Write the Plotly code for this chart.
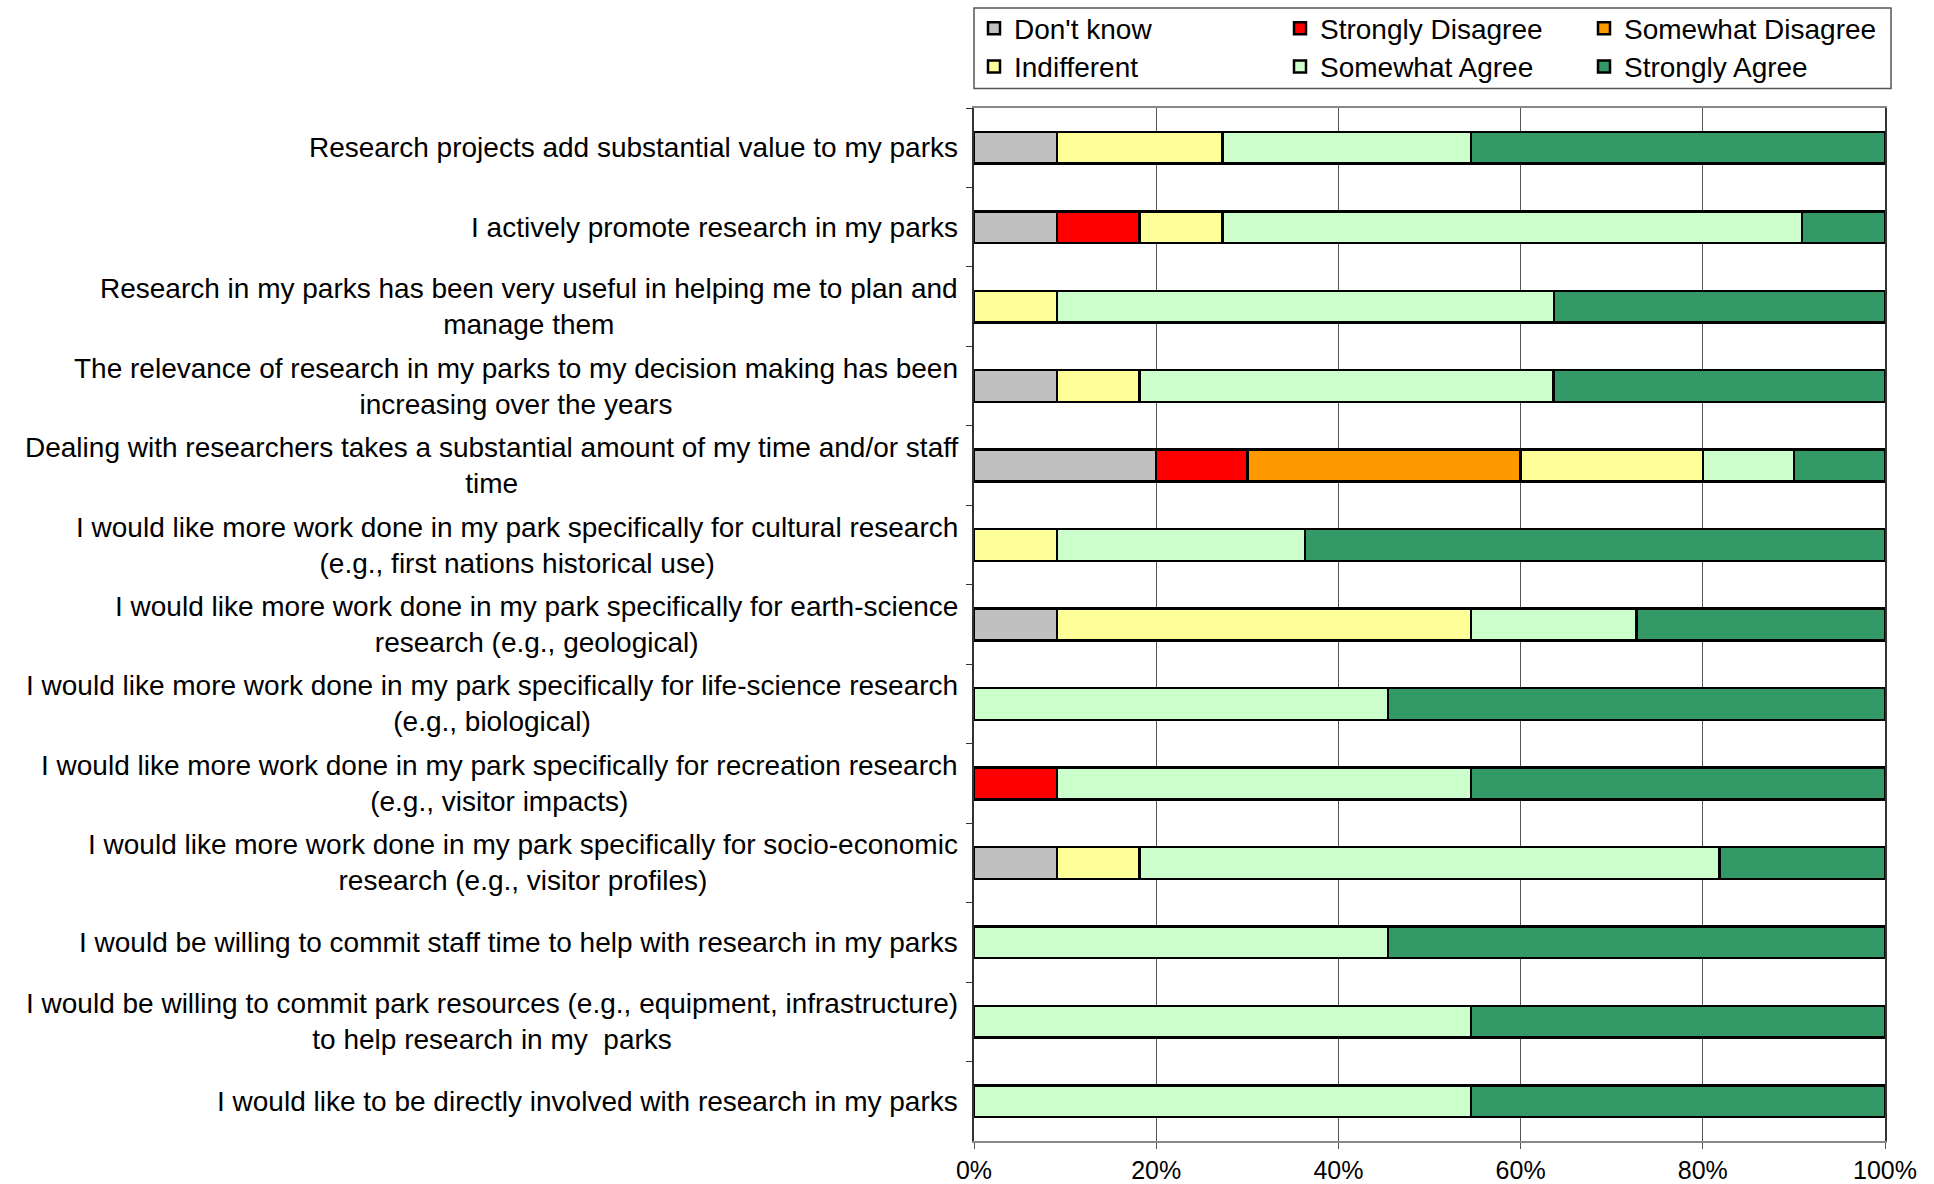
import plotly.graph_objects as go

categories = [
    "Research projects add substantial value to my parks",
    "I actively promote research in my parks",
    "Research in my parks has been very useful in helping me to plan and<br>manage them",
    "The relevance of research in my parks to my decision making has been<br>increasing over the years",
    "Dealing with researchers takes a substantial amount of my time and/or staff<br>time",
    "I would like more work done in my park specifically for cultural research<br>(e.g., first nations historical use)",
    "I would like more work done in my park specifically for earth-science<br>research (e.g., geological)",
    "I would like more work done in my park specifically for life-science research<br>(e.g., biological)",
    "I would like more work done in my park specifically for recreation research<br>(e.g., visitor impacts)",
    "I would like more work done in my park specifically for socio-economic<br>research (e.g., visitor profiles)",
    "I would be willing to commit staff time to help with research in my parks",
    "I would be willing to commit park resources (e.g., equipment, infrastructure)<br>to help research in my  parks",
    "I would like to be directly involved with research in my parks",
]

series_names = ["Don't know", "Strongly Disagree", "Somewhat Disagree",
                "Indifferent", "Somewhat Agree", "Strongly Agree"]

dont_know =          [9.09, 9.09, 0,    9.09, 20, 0,    9.09,  0,     0,    9.09, 0,     0,     0]
strongly_disagree =  [0,    9.09, 0,    0,    10, 0,    0,     0,     9.09, 0,    0,     0,     0]
somewhat_disagree =  [0,    0,    0,    0,    30, 0,    0,     0,     0,    0,    0,     0,     0]
indifferent =        [18.18, 9.09, 9.09, 9.09, 20, 9.09, 45.45, 0,    0,    9.09, 0,     0,     0]
somewhat_agree =     [27.27, 63.64, 54.55, 45.45, 10, 27.27, 18.18, 45.45, 45.45, 63.64, 45.45, 54.55, 54.55]
strongly_agree =     [45.45, 9.09, 36.36, 36.36, 10, 63.64, 27.27, 54.55, 45.45, 18.18, 54.55, 45.45, 45.45]

series_values = [dont_know, strongly_disagree, somewhat_disagree,
                 indifferent, somewhat_agree, strongly_agree]
colors = ["#C0C0C0", "#FF0000", "#FF9900", "#FFFF99", "#CCFFCC", "#339966"]

x_tick_vals = [0, 20, 40, 60, 80, 100]
x_tick_text = ["0%", "20%", "40%", "60%", "80%", "100%"]

FONT = "Liberation Sans, Arial, sans-serif"
LABEL_SIZE = 28

# legend grid: 3 columns x 2 rows
legend_cols = [0.0, 0.3359, 0.6696]
legend_rows = [1.0769, 1.0399]
legend_ids = ["legend", "legend2", "legend3", "legend4", "legend5", "legend6"]

fig = go.Figure()
for i, (name, vals, col) in enumerate(zip(series_names, series_values, colors)):
    fig.add_trace(go.Bar(
        y=categories, x=vals, name=name, orientation="h",
        marker=dict(color=col, line=dict(color="#000000", width=2.5)),
        legend=legend_ids[i], showlegend=True,
    ))

for c in categories:
    fig.add_annotation(
        x=0, xref="paper", y=c, yref="y", text=c, showarrow=False,
        xanchor="right", yanchor="middle", align="center", xshift=-14,
        font=dict(family=FONT, size=LABEL_SIZE, color="#000000"),
    )

legend_layout = {}
for i, lid in enumerate(legend_ids):
    legend_layout[lid] = dict(
        orientation="h", x=legend_cols[i % 3], xanchor="left",
        y=legend_rows[i // 3], yanchor="middle",
        font=dict(family=FONT, size=LABEL_SIZE, color="#000000"),
        bgcolor="rgba(0,0,0,0)", borderwidth=0, visible=True,
    )

fig.update_layout(
    barmode="stack",
    bargap=0.6,
    showlegend=True,
    width=1934, height=1184,
    margin=dict(l=974, r=49, t=108, b=43, autoexpand=False),
    paper_bgcolor="#FFFFFF", plot_bgcolor="#FFFFFF",
    font=dict(family=FONT, size=LABEL_SIZE, color="#000000"),
    xaxis=dict(range=[0, 100], tickvals=x_tick_vals, ticktext=x_tick_text,
               showgrid=True, gridcolor="#555555", gridwidth=1,
               showline=True, linecolor="#888888", linewidth=2, mirror=True,
               ticks="outside", ticklen=6, tickcolor="#555555",
               tickfont=dict(family=FONT, size=25), zeroline=False, fixedrange=True),
    yaxis=dict(autorange="reversed", showticklabels=False, showgrid=False,
               showline=True, linecolor="#333333", linewidth=2, mirror=True,
               ticks="outside", tickson="boundaries", ticklen=6, tickcolor="#333333",
               fixedrange=True),
    shapes=[dict(type="rect", xref="paper", yref="paper",
                 x0=0.0, x1=1.0066, y0=1.0189, y1=1.0967,
                 line=dict(color="#555555", width=1.5), fillcolor="rgba(0,0,0,0)",
                 layer="above")],
    **legend_layout,
)

fig.write_html("out.html")
